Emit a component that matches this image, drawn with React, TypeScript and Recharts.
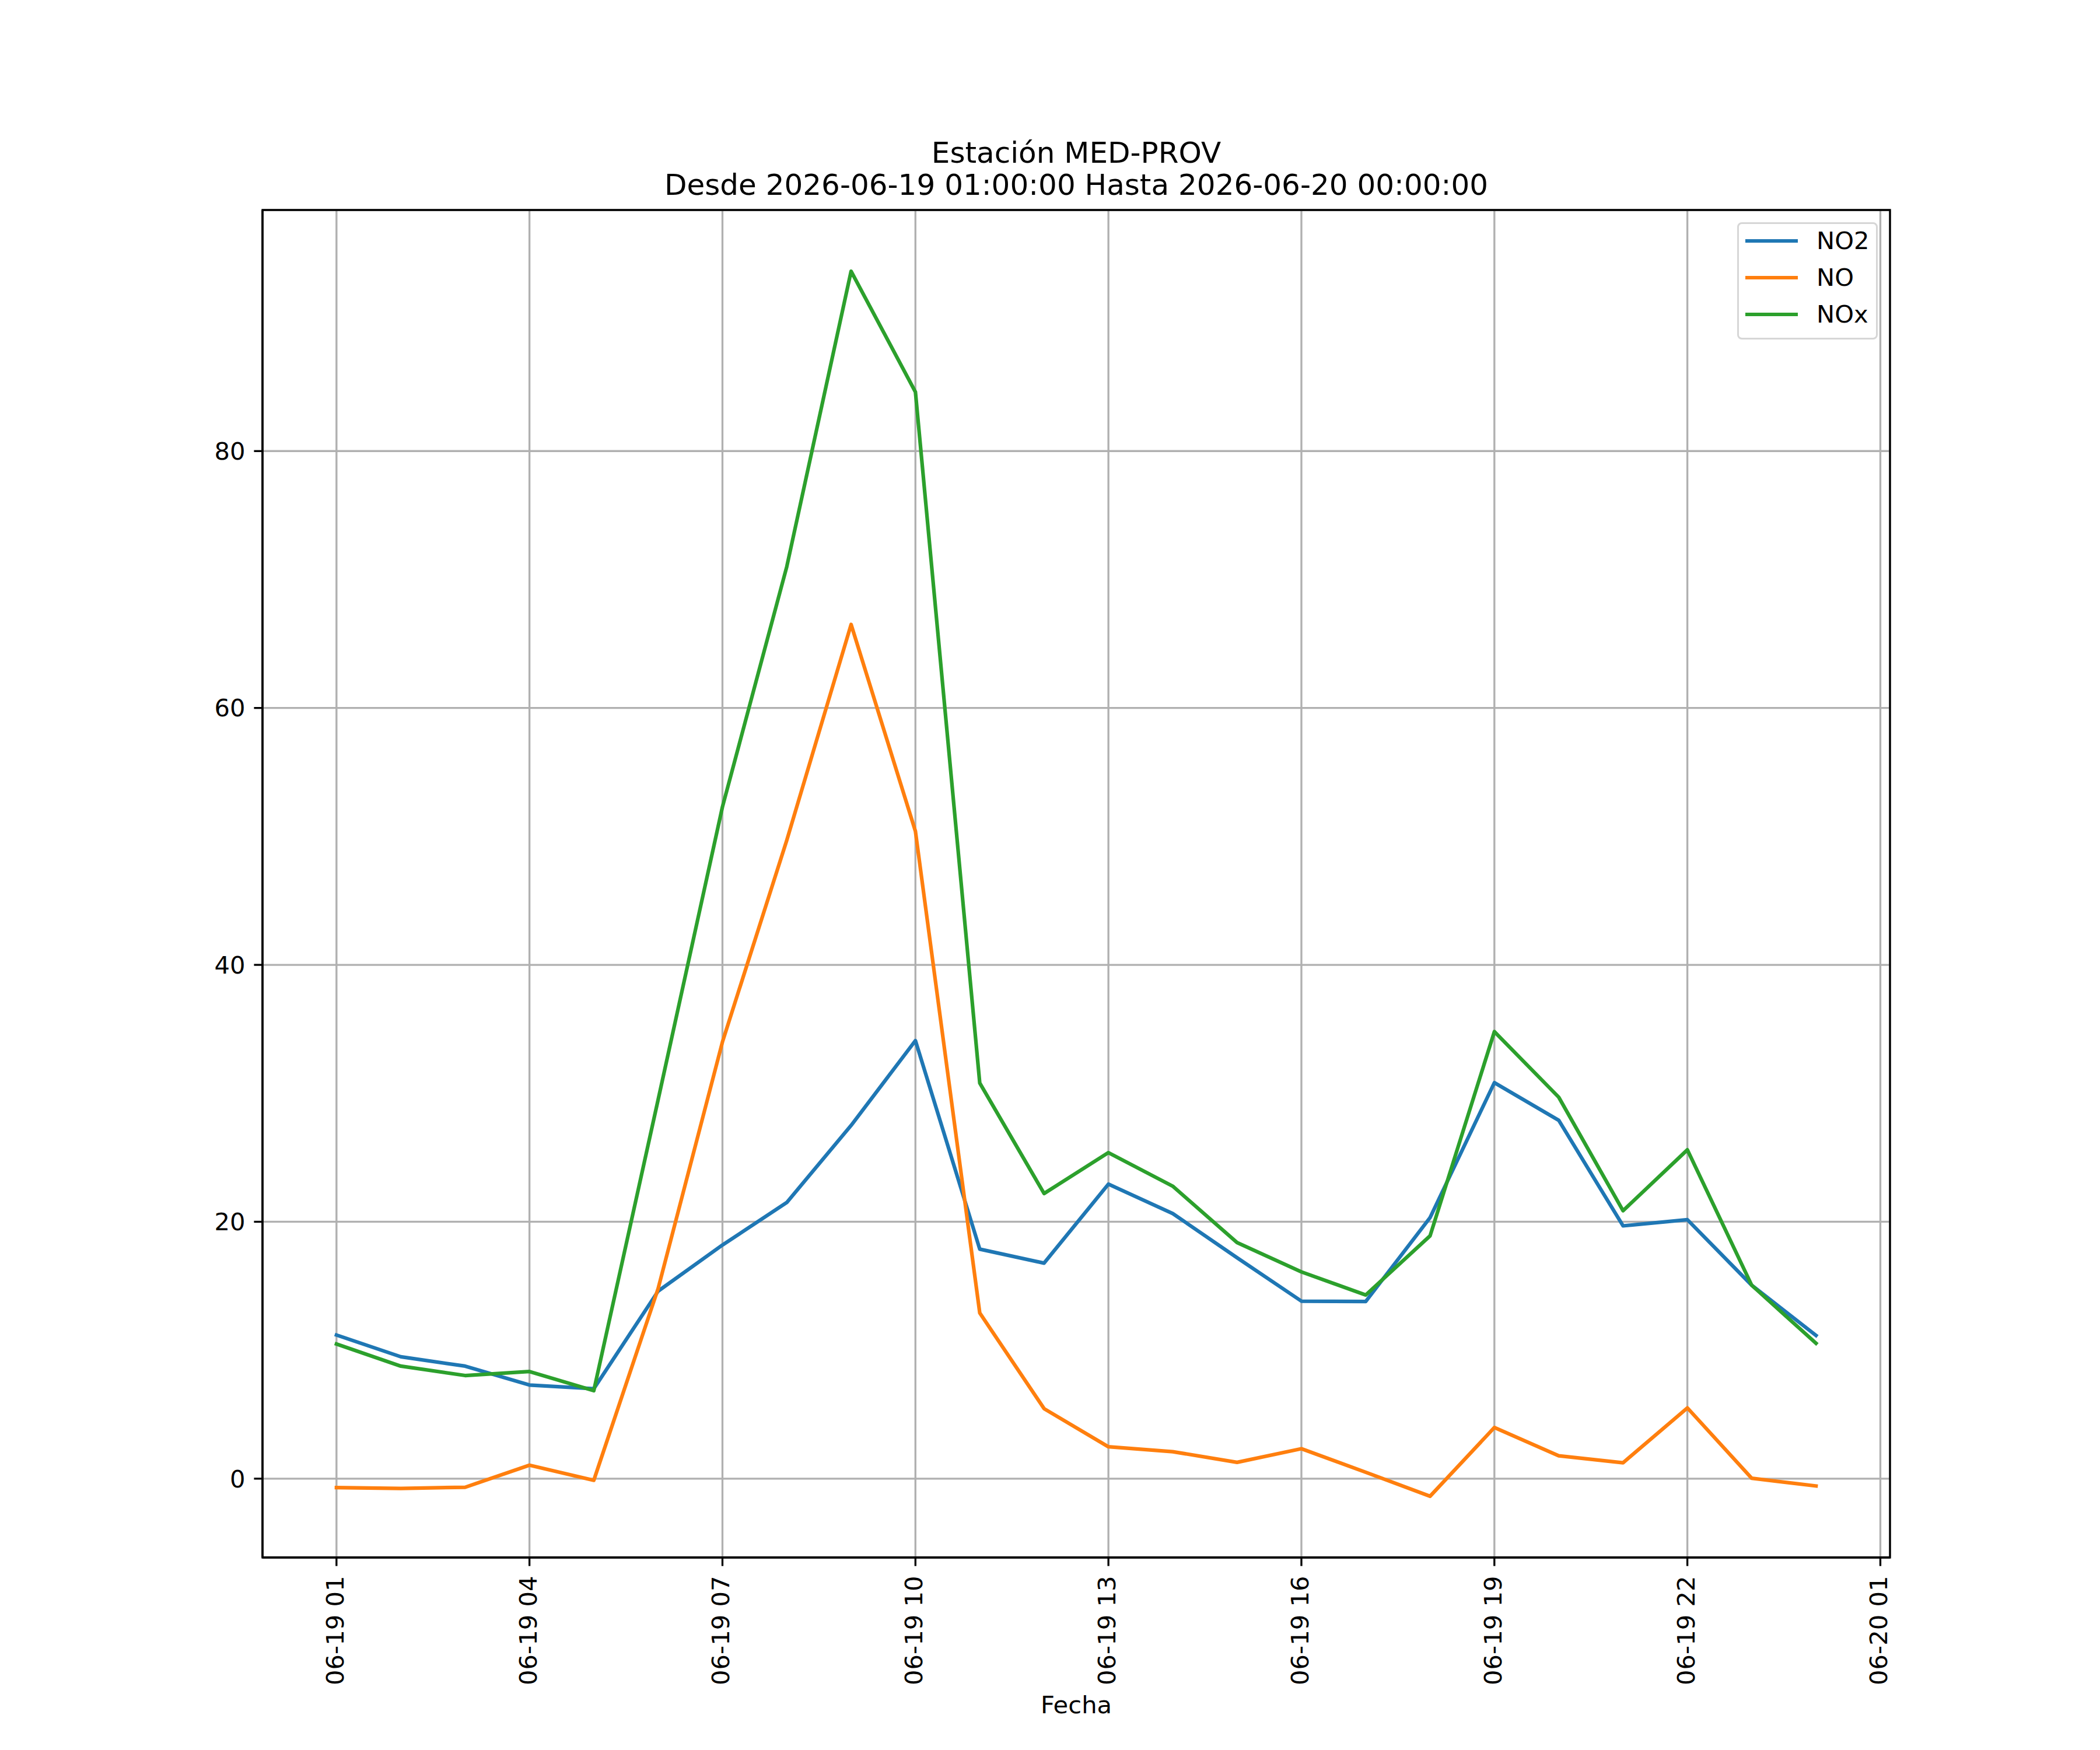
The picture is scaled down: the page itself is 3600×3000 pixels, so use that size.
import {
  CartesianGrid,
  Label,
  Legend,
  Line,
  LineChart,
  ReferenceArea,
  XAxis,
  YAxis,
} from 'recharts';

// Hours since 2026-06-19 01:00 (hourly readings up to 2026-06-20 00:00)
const HOURS = [0, 1, 2, 3, 4, 5, 6, 7, 8, 9, 10, 11, 12, 13, 14, 15, 16, 17, 18, 19, 20, 21, 22, 23];

const NO2 = [
  11.18, 9.49, 8.76, 7.29, 7.0, 14.6, 18.19, 21.5, 27.5, 34.1, 17.87, 16.78,
  22.93, 20.64, 17.2, 13.82, 13.79, 20.32, 30.83, 27.9, 19.68, 20.16, 15.06, 11.15,
];
const NO = [
  -0.7, -0.76, -0.67, 1.05, -0.13, 14.8, 34.0, 49.7, 66.5, 50.4, 12.9, 5.45,
  2.48, 2.1, 1.27, 2.33, 0.5, -1.37, 3.98, 1.78, 1.24, 5.51, 0.03, -0.57,
];
const NOX = [
  10.48, 8.76, 8.03, 8.34, 6.85, 29.5, 52.3, 71.0, 94.0, 84.6, 30.8, 22.2,
  25.38, 22.77, 18.38, 16.1, 14.3, 18.9, 34.8, 29.7, 20.86, 25.6, 15.06, 10.54,
];

const X_TICKS = [0, 3, 6, 9, 12, 15, 18, 21, 24];
const X_TICK_LABELS = [
  '06-19 01', '06-19 04', '06-19 07', '06-19 10', '06-19 13',
  '06-19 16', '06-19 19', '06-19 22', '06-20 01',
];
const Y_TICKS = [0, 20, 40, 60, 80];

const SERIES = [
  { key: 'no2', name: 'NO2', color: '#1f77b4' },
  { key: 'no', name: 'NO', color: '#ff7f0e' },
  { key: 'nox', name: 'NOx', color: '#2ca02c' },
];

const FONT = '"DejaVu Sans", Verdana, sans-serif';
const PT = 300 / 72; // matplotlib points -> px at 300 dpi

const rows = HOURS.map((h, i) => ({ h, no2: NO2[i], no: NO[i], nox: NOX[i] }));

// matplotlib-style 5% margins
const xSpan = HOURS[HOURS.length - 1] - HOURS[0];
const X_DOMAIN: [number, number] = [HOURS[0] - xSpan * 0.05, HOURS[HOURS.length - 1] + xSpan * 0.05];
const allY = [...NO2, ...NO, ...NOX];
const yLo = Math.min(...allY);
const yHi = Math.max(...allY);
const Y_DOMAIN: [number, number] = [yLo - (yHi - yLo) * 0.05, yHi + (yHi - yLo) * 0.05];

function RotatedTick({ x, y, payload }: { x?: number; y?: number; payload?: { value: number } }) {
  const idx = X_TICKS.indexOf(payload?.value ?? -1);
  return (
    <text
      x={x}
      y={y}
      dy={12}
      transform={`rotate(-90 ${x} ${y})`}
      textAnchor="end"
      fontSize={10 * PT}
      fontFamily={FONT}
      fill="#000"
    >
      {X_TICK_LABELS[idx] ?? ''}
    </text>
  );
}

function LegendBox() {
  return (
    <div
      style={{
        position: 'relative',
        width: 241,
        height: 201,
        boxSizing: 'border-box',
        border: '3.3px solid #d6d6d6',
        borderRadius: 8,
        background: 'rgba(255,255,255,0.8)',
        fontFamily: FONT,
        fontSize: 10 * PT,
      }}
    >
      {SERIES.map((s, i) => (
        <div key={s.key}>
          <div
            style={{
              position: 'absolute',
              left: 11,
              top: 32 + i * 63 - 3.3 - 3,
              width: 90,
              height: 6.25,
              background: s.color,
            }}
          />
          <div
            style={{
              position: 'absolute',
              left: 133,
              top: 32 + i * 63 - 3.3 - 25,
              lineHeight: '50px',
              height: 50,
              color: '#000',
              whiteSpace: 'nowrap',
            }}
          >
            {s.name}
          </div>
        </div>
      ))}
    </div>
  );
}

export default function App() {
  return (
    <div style={{ position: 'relative', width: 3600, height: 3000, background: '#fff', fontFamily: FONT }}>
      <style>{'body{margin:0}'}</style>
      <div
        style={{
          position: 'absolute',
          left: 450,
          width: 2790,
          top: 235,
          textAlign: 'center',
          fontSize: 12 * PT,
          lineHeight: '55px',
          color: '#000',
          whiteSpace: 'pre',
        }}
      >
        {'Estación MED-PROV\nDesde 2026-06-19 01:00:00 Hasta 2026-06-20 00:00:00'}
      </div>
      <LineChart
        width={3600}
        height={3000}
        data={rows}
        margin={{ top: 360, right: 360, bottom: 0, left: 0 }}
        style={{ position: 'absolute', left: 0, top: 0 }}
      >
        <CartesianGrid stroke="#b0b0b0" strokeWidth={0.8 * PT} />
        <XAxis
          dataKey="h"
          type="number"
          domain={X_DOMAIN}
          allowDataOverflow
          ticks={X_TICKS}
          interval={0}
          height={330}
          tickSize={3.5 * PT}
          tickMargin={17}
          axisLine={{ stroke: '#000', strokeWidth: 0.8 * PT }}
          tickLine={{ stroke: '#000', strokeWidth: 0.8 * PT }}
          tick={<RotatedTick />}
        >
          <Label
            value="Fecha"
            position="insideBottom"
            offset={63}
            style={{ fontSize: 10 * PT, fontFamily: FONT, fill: '#000' }}
          />
        </XAxis>
        <YAxis
          type="number"
          domain={Y_DOMAIN}
          allowDataOverflow
          ticks={Y_TICKS}
          interval={0}
          width={450}
          tickSize={3.5 * PT}
          tickMargin={15}
          axisLine={{ stroke: '#000', strokeWidth: 0.8 * PT }}
          tickLine={{ stroke: '#000', strokeWidth: 0.8 * PT }}
          tick={{ fontSize: 10 * PT, fontFamily: FONT, fill: '#000' }}
        />
        {SERIES.map((s) => (
          <Line
            key={s.key}
            dataKey={s.key}
            name={s.name}
            type="linear"
            stroke={s.color}
            strokeWidth={1.5 * PT}
            strokeLinejoin="round"
            strokeLinecap="square"
            dot={false}
            activeDot={false}
            isAnimationActive={false}
          />
        ))}
        <ReferenceArea
          x1={X_DOMAIN[0]}
          x2={X_DOMAIN[1]}
          y1={Y_DOMAIN[0]}
          y2={Y_DOMAIN[1]}
          fill="none"
          stroke="#000"
          strokeWidth={0.8 * PT}
          ifOverflow="visible"
        />
        <Legend
          layout="horizontal"
          verticalAlign="middle"
          align="center"
          wrapperStyle={{ position: 'absolute', top: 381, left: 2978, width: 241, height: 201 }}
          content={<LegendBox />}
        />
      </LineChart>
    </div>
  );
}
